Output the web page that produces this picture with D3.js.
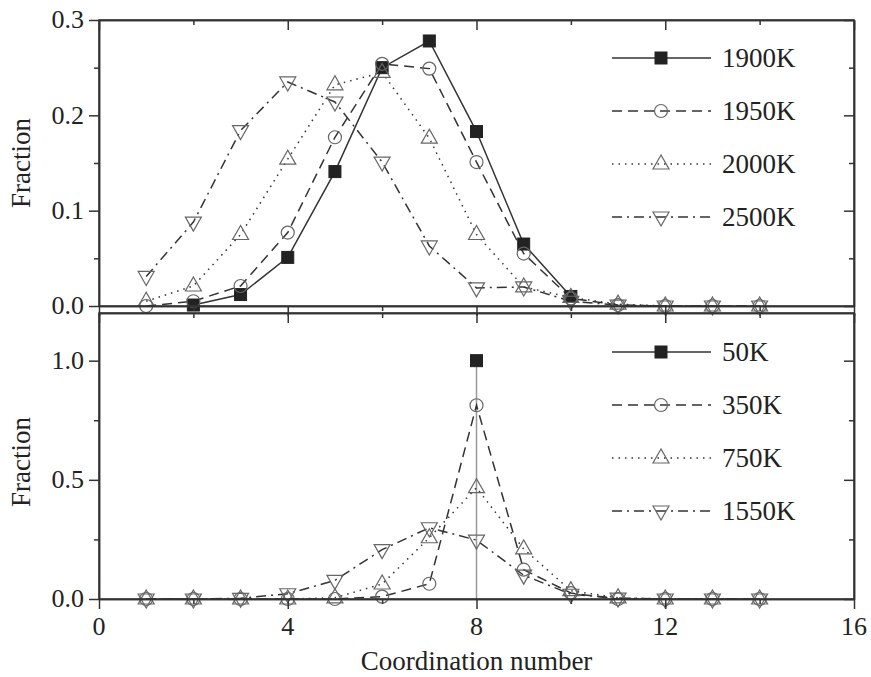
<!DOCTYPE html>
<html>
<head>
<meta charset="utf-8">
<script src="https://cdn.jsdelivr.net/npm/d3@7"></script>
</head>
<body style="margin:0">
<script>
// coordination numbers
var cn = [1, 2, 3, 4, 5, 6, 7, 8, 9, 10, 11, 12, 13, 14];

// top panel: high temperatures (null = not plotted)
var topLabels = ["1900K", "1950K", "2000K", "2500K"];
var f1900 = [null, 0.001, 0.012, 0.051, 0.141, 0.250, 0.278, 0.183, 0.065, 0.010, null, null, null, null];
var f1950 = [0.000, 0.005, 0.021, 0.077, 0.177, 0.254, 0.249, 0.151, 0.055, 0.008, 0.001, 0.000, 0.000, 0.000];
var f2000 = [0.005, 0.021, 0.075, 0.154, 0.232, 0.245, 0.176, 0.075, 0.020, 0.009, 0.002, 0.000, 0.000, 0.000];
var f2500 = [0.031, 0.088, 0.184, 0.235, 0.214, 0.151, 0.063, 0.019, 0.020, 0.005, 0.001, 0.000, 0.000, 0.000];

// bottom panel: low temperatures
var botLabels = ["50K", "350K", "750K", "1550K"];
var f50 = [null, null, null, null, null, null, null, 1.0, null, null, null, null, null, null];
var f350 = [0.000, 0.000, 0.000, 0.000, 0.000, 0.010, 0.064, 0.813, 0.123, 0.025, 0.000, 0.000, 0.000, 0.000];
var f750 = [0.000, 0.000, 0.000, 0.000, 0.005, 0.063, 0.257, 0.467, 0.210, 0.035, 0.005, 0.000, 0.000, 0.000];
var f1550 = [0.000, 0.000, 0.003, 0.022, 0.078, 0.207, 0.299, 0.247, 0.100, 0.020, 0.004, 0.000, 0.000, 0.000];

var xMajor = [0, 4, 8, 12, 16];
var xMinor = [2, 6, 10, 14];
var topMajor = [0, 0.1, 0.2, 0.3];
var topMinor = [0.05, 0.15, 0.25];
var botMajor = [0, 0.5, 1.0];
var botMinor = [0.25, 0.75];

var width = 871, height = 677;
var left = 99, right = 854;

var svg = d3.select("body").append("svg")
  .attr("width", width)
  .attr("height", height);

var x = d3.scaleLinear().domain([0, 16]).range([left, right]);
var yTop = d3.scaleLinear().domain([0, 0.3]).range([306, 20]);
var yBot = d3.scaleLinear().domain([0, 1.2]).range([599, 313]);

var dashes = ["none", "10,6", "1.5,5", "10,5,2,5"];
var markers = ["square", "circle", "up", "down"];

// serif text: drawn at 20px and scaled up (larger sizes fell back to a sans face)
function label(px, py, str, size, anchor, dy, rot) {
  svg.append("g")
    .attr("transform", "translate(" + px + "," + py + ") rotate(" + (rot || 0) + ") scale(" + (size / 20) + ")")
    .append("text")
      .attr("font-family", "Liberation Serif")
      .attr("font-size", 20)
      .attr("fill", "#222")
      .attr("text-anchor", anchor)
      .attr("dy", dy)
      .text(str);
}

function drawMarker(g, kind, cx, cy) {
  if (kind == "square") {
    g.append("rect").attr("x", cx - 6).attr("y", cy - 6).attr("width", 12).attr("height", 12)
      .attr("fill", "#222").attr("stroke", "#222");
  } else if (kind == "circle") {
    g.append("circle").attr("cx", cx).attr("cy", cy).attr("r", 6.5)
      .attr("fill", "none").attr("stroke", "#666").attr("stroke-width", 1.2);
  } else {
    var s = kind == "up" ? 1 : -1;
    var pts = [[cx, cy - s * 9], [cx - 8, cy + s * 5], [cx + 8, cy + s * 5]];
    g.append("polygon").attr("points", pts.map(p => p.join(",")).join(" "))
      .attr("fill", "none").attr("stroke", "#666").attr("stroke-width", 1.2);
  }
}

function axes(y, major, minor, isBottom, fmt) {
  var yr = y.range();
  // left, outward
  svg.append("g").attr("transform", "translate(" + left + ",0)")
    .call(d3.axisLeft(y).tickValues(major).tickSize(10).tickSizeOuter(0).tickFormat(""));
  svg.append("g").attr("transform", "translate(" + left + ",0)")
    .call(d3.axisLeft(y).tickValues(minor).tickSize(5).tickSizeOuter(0).tickFormat(""));
  major.forEach(v => label(left - 15, y(v), fmt(v), 26, "end", "0.32em"));
  // right, inward
  svg.append("g").attr("transform", "translate(" + right + ",0)")
    .call(d3.axisLeft(y).tickValues(major).tickSize(10).tickSizeOuter(0).tickFormat(""));
  svg.append("g").attr("transform", "translate(" + right + ",0)")
    .call(d3.axisLeft(y).tickValues(minor).tickSize(5).tickSizeOuter(0).tickFormat(""));
  // top, inward
  svg.append("g").attr("transform", "translate(0," + yr[1] + ")")
    .call(d3.axisBottom(x).tickValues(xMajor).tickSize(10).tickSizeOuter(0).tickFormat(""));
  svg.append("g").attr("transform", "translate(0," + yr[1] + ")")
    .call(d3.axisBottom(x).tickValues(xMinor).tickSize(5).tickSizeOuter(0).tickFormat(""));
  // bottom, outward
  svg.append("g").attr("transform", "translate(0," + yr[0] + ")")
    .call(d3.axisBottom(x).tickValues(xMajor).tickSize(10).tickSizeOuter(0).tickFormat(""));
  svg.append("g").attr("transform", "translate(0," + yr[0] + ")")
    .call(d3.axisBottom(x).tickValues(xMinor).tickSize(5).tickSizeOuter(0).tickFormat(""));
  if (isBottom) {
    xMajor.forEach(v => label(x(v), yr[0] + 18, d3.format("d")(v), 26, "middle", "0.71em"));
  }

  svg.append("rect").attr("x", left).attr("y", yr[1])
    .attr("width", right - left).attr("height", yr[0] - yr[1])
    .attr("fill", "none").attr("stroke", "#333").attr("stroke-width", 1.5);
}

function panel(y, series, labels, legY, dropLine) {
  var line = d3.line().defined(d => d !== null).x((d, i) => x(cn[i])).y(d => y(d));
  var g = svg.append("g");
  if (dropLine) {
    var i8 = cn.indexOf(8);
    g.append("line").attr("x1", x(8)).attr("x2", x(8))
      .attr("y1", y(0)).attr("y2", y(series[0][i8]))
      .attr("stroke", "#999").attr("stroke-width", 1.5);
  }
  series.forEach((s, k) => {
    g.append("path").datum(s).attr("d", line)
      .attr("fill", "none").attr("stroke", "#333").attr("stroke-width", 1.5)
      .attr("stroke-dasharray", dashes[k]);
  });
  series.forEach((s, k) => {
    s.forEach((v, i) => {
      if (v === null) return;
      drawMarker(g, markers[k], x(cn[i]), y(v));
    });
  });
  // legend
  labels.forEach((lab, k) => {
    var ly = legY + k * 53;
    g.append("line").attr("x1", 612).attr("x2", 711).attr("y1", ly).attr("y2", ly)
      .attr("stroke", "#333").attr("stroke-width", 1.5).attr("stroke-dasharray", dashes[k]);
    drawMarker(g, markers[k], 661, ly);
    label(722, ly, lab, 27, "start", "0.35em");
  });
}

panel(yTop, [f1900, f1950, f2000, f2500], topLabels, 58, false);
panel(yBot, [f50, f350, f750, f1550], botLabels, 352, true);

axes(yTop, topMajor, topMinor, false, d3.format(".1f"));
axes(yBot, botMajor, botMinor, true, d3.format(".1f"));

svg.selectAll(".domain").attr("stroke", "#333").attr("stroke-width", 1.5);
svg.selectAll(".tick line").attr("stroke", "#333").attr("stroke-width", 1.5);

label((left + right) / 2, 670, "Coordination number", 27, "middle", "0");
label(30, 163, "Fraction", 27, "middle", "0", -90);
label(30, 462, "Fraction", 27, "middle", "0", -90);
</script>
</body>
</html>
